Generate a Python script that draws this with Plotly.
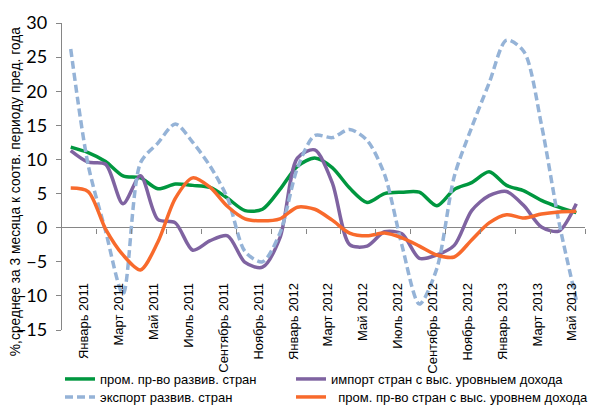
import plotly.graph_objects as go

months = ["Декабрь 2010", "Январь 2011", "Февраль 2011", "Март 2011", "Апрель 2011", "Май 2011",
          "Июнь 2011", "Июль 2011", "Август 2011", "Сентябрь 2011", "Октябрь 2011", "Ноябрь 2011",
          "Декабрь 2011", "Январь 2012", "Февраль 2012", "Март 2012", "Апрель 2012", "Май 2012",
          "Июнь 2012", "Июль 2012", "Август 2012", "Сентябрь 2012", "Октябрь 2012", "Ноябрь 2012",
          "Декабрь 2012", "Январь 2013", "Февраль 2013", "Март 2013", "Апрель 2013", "Май 2013"]

prom_razv = [11.8, 11.0, 9.7, 7.6, 7.3, 5.7, 6.4, 6.2, 5.9, 4.3, 2.5, 2.7, 5.6, 9.0, 10.2,
             8.8, 5.8, 3.7, 5.0, 5.2, 5.2, 3.2, 5.6, 6.6, 8.2, 6.2, 5.4, 4.0, 3.0, 2.2]
import_vys = [11.3, 9.6, 9.3, 3.5, 7.6, 1.2, 0.7, -3.3, -1.9, -1.2, -5.1, -5.8, -1.5, 10.2, 11.4,
              6.6, -2.5, -2.7, -0.6, -0.9, -4.5, -4.0, -2.6, 2.5, 4.7, 5.3, 3.2, 0.1, -0.5, 3.5]
export_razv = [26.2, 9.2, -0.5, -9.7, 9.5, 12.4, 15.2, 12.5, 9.0, 4.3, -3.5, -5.0, -0.8, 8.7, 13.5,
               13.2, 14.4, 12.8, 7.8, -2.6, -11.2, -6.0, 7.5, 14.7, 21.2, 27.5, 25.8, 15.1, 0.9, -10.6]
prom_vys = [5.8, 5.3, -0.2, -4.0, -6.2, -2.1, 4.3, 7.3, 5.9, 3.1, 1.3, 1.0, 1.3, 3.0, 2.7,
            1.1, -0.8, -1.2, -0.8, -1.5, -2.7, -4.0, -4.3, -1.8, 0.7, 1.9, 1.4, 2.0, 2.3, 2.4]

tick_labels = months[1::2]

names = ["пром. пр-во развив. стран", "импорт стран с выс. уровныем дохода",
         "экспорт развив. стран", "\u00a0\u00a0пром. пр-во стран с выс. уровнем дохода"]
colors = ["#00973F", "#7F63A1", "#95B3D7", "#F86A2C"]
dashes = ["solid", "solid", "8px,4px", "solid"]
legends = ["legend", "legend2", "legend3", "legend4"]
series = [prom_razv, import_vys, export_razv, prom_vys]

fig = go.Figure()
for name, vals, col, dash, lg in zip(names, series, colors, dashes, legends):
    fig.add_trace(go.Scatter(x=months, y=vals, name=name, mode="lines", legend=lg,
                             line=dict(color=col, width=3.5, dash=dash, shape="spline", smoothing=0.8),
                             hoverinfo="skip"))

# helper axis for the tick marks on the zero line (category boundaries, every 2 months)
n = len(months)
boundary_ticks = [k - 0.5 for k in range(2, n + 1, 2)]
fig.add_trace(go.Scatter(x=[], y=[], xaxis="x2", showlegend=False, hoverinfo="skip"))

W, H = 589, 399  # page shows the figure with an 8px body margin
AX = "#868686"
FONT = "Liberation Sans, Arial, sans-serif"
leg_common = dict(orientation="v", xref="container", yref="container", xanchor="left", yanchor="top",
                  font=dict(size=13, family=FONT), tracegroupgap=0, itemwidth=30,
                  bgcolor="rgba(0,0,0,0)", borderwidth=0)
row1, row2 = 356, 374
col1, col2 = 52, 283
fig.update_layout(
    width=W, height=H,
    margin=dict(l=54, r=12, t=14.7, b=77.3, autoexpand=False),
    paper_bgcolor="white", plot_bgcolor="white",
    font=dict(family=FONT, color="#000000"),
    showlegend=True,
    legend=dict(x=col1 / W, y=(H - row1) / H, **leg_common),
    legend2=dict(x=col2 / W, y=(H - row1) / H, **leg_common),
    legend3=dict(x=col1 / W, y=(H - row2) / H, **leg_common),
    legend4=dict(x=col2 / W, y=(H - row2) / H, **leg_common),
    xaxis=dict(type="category", categoryorder="array", categoryarray=months,
               range=[-0.5, n - 0.5], tickvals=tick_labels, ticktext=tick_labels,
               tickangle=-90, tickfont=dict(size=13, family=FONT), ticklabelshift=-4,
               showgrid=False, zeroline=False, showline=False, ticks="",
               anchor="free", position=0.165, automargin=False),
    xaxis2=dict(overlaying="x", range=[-0.5, n - 0.5], tickvals=boundary_ticks,
                showticklabels=False, ticks="outside", ticklen=5, tickcolor=AX, tickwidth=1,
                showgrid=False, zeroline=False, showline=False,
                anchor="free", position=15 / 45, automargin=False),
    yaxis=dict(range=[-15, 30], dtick=5, tick0=0, showgrid=False,
               zeroline=True, zerolinecolor=AX, zerolinewidth=1.3,
               showline=True, linecolor=AX, linewidth=1.3,
               ticks="outside", ticklen=5, tickcolor=AX, automargin=False,
               ticklabelstandoff=5,
               tickfont=dict(size=18, family="Lato, Liberation Sans, sans-serif")),
    annotations=[dict(text="%,среднее за 3 месяца к соотв. периоду пред. года",
                      xref="paper", yref="paper", x=-0.09, y=0.452, xanchor="center", yanchor="middle",
                      textangle=-90, showarrow=False,
                      font=dict(size=13.8, family=FONT))],
)

fig.write_html("out.html")
